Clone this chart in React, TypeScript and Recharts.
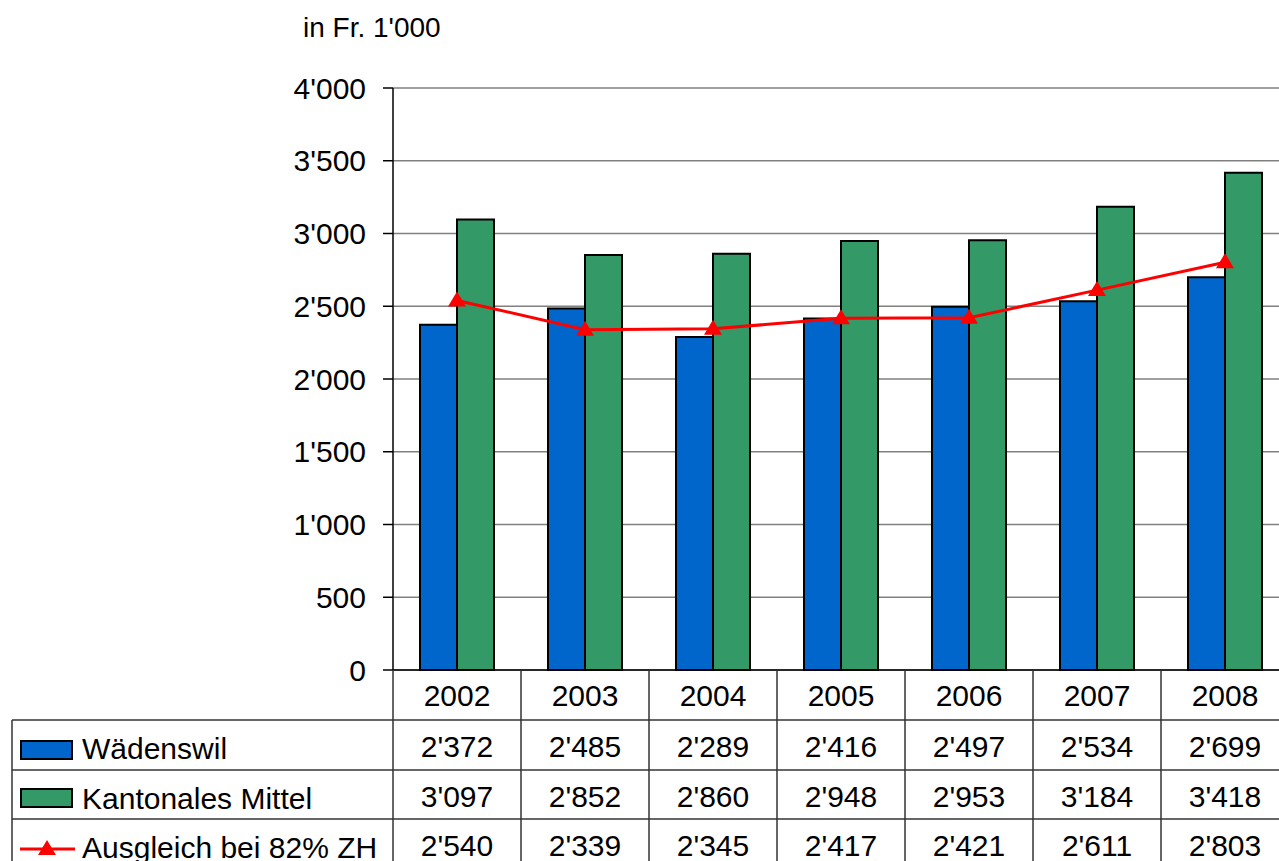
import { ComposedChart, Bar, Line, XAxis, YAxis, CartesianGrid } from "recharts";

const years = ["2002", "2003", "2004", "2005", "2006", "2007", "2008"];
const waedenswil = [2372, 2485, 2289, 2416, 2497, 2534, 2699];
const kantonal = [3097, 2852, 2860, 2948, 2953, 3184, 3418];
const ausgleich = [2540, 2339, 2345, 2417, 2421, 2611, 2803];
const yTicks = [0, 500, 1000, 1500, 2000, 2500, 3000, 3500, 4000];
const seriesNames = ["Wädenswil", "Kantonales Mittel", "Ausgleich bei 82% ZH"];

const data = years.map((y, i) => ({
  year: y,
  w: waedenswil[i],
  k: kantonal[i],
  a: ausgleich[i],
}));

const FONT = "'Liberation Sans', Arial, sans-serif";
const BLUE = "#0066cc";
const GREEN = "#339966";
const RED = "#ff0000";
const LINE = "#333";
const PLOT_LEFT = 393;
const PLOT_RIGHT = 1289;
const BAND = (PLOT_RIGHT - PLOT_LEFT) / years.length;
const ROW_Y = [720, 770, 819];

const fmt = (v: number) => {
  const s = String(v);
  return s.length > 3 ? s.slice(0, -3) + "'" + s.slice(-3) : s;
};

function Triangle({ cx, cy }: any) {
  if (cx == null || cy == null) return null;
  return <path d={`M${cx},${cy - 9} L${cx + 9},${cy + 6} L${cx - 9},${cy + 6} Z`} fill={RED} />;
}

function TableTick({ x, payload, index }: any) {
  const i = index;
  return (
    <g fontFamily={FONT} fontSize={30} fill="#000">
      {i === 0 && <line x1={x - BAND / 2} x2={x - BAND / 2} y1={670} y2={861} stroke={LINE} strokeWidth={1.5} />}
      <line x1={x + BAND / 2} x2={x + BAND / 2} y1={670} y2={861} stroke={LINE} strokeWidth={1.5} />
      <text x={x} y={706} textAnchor="middle">{payload.value}</text>
      <text x={x} y={757} textAnchor="middle">{fmt(waedenswil[i])}</text>
      <text x={x} y={807} textAnchor="middle">{fmt(kantonal[i])}</text>
      <text x={x} y={856} textAnchor="middle">{fmt(ausgleich[i])}</text>
    </g>
  );
}

export default function App() {
  return (
    <div style={{ position: "absolute", left: 0, top: 0, width: 1279, height: 861, overflow: "hidden", background: "#fff" }}>
      <ComposedChart
        width={1295}
        height={861}
        data={data}
        margin={{ top: 88, right: 6, left: 0, bottom: 0 }}
        barGap={0}
        style={{ position: "absolute", left: 0, top: 0 }}
      >
        <CartesianGrid vertical={false} stroke="#808080" strokeWidth={1.5} />
        <XAxis
          dataKey="year"
          height={191}
          axisLine={{ stroke: "#000", strokeWidth: 1.5 }}
          tickLine={false}
          tickSize={0}
          interval={0}
          tick={<TableTick />}
        />
        <YAxis
          width={393}
          domain={[0, 4000]}
          ticks={yTicks}
          tickFormatter={fmt}
          axisLine={{ stroke: "#000", strokeWidth: 1.5 }}
          tickLine={{ stroke: "#000", strokeWidth: 1.5 }}
          tickSize={10}
          tickMargin={17}
          tick={{ fill: "#000", fontSize: 30, fontFamily: FONT }}
        />
        <Bar dataKey="w" barSize={37} fill={BLUE} stroke="#000" strokeWidth={2} isAnimationActive={false} />
        <Bar dataKey="k" barSize={37} fill={GREEN} stroke="#000" strokeWidth={2} isAnimationActive={false} />
        <Line dataKey="a" stroke={RED} strokeWidth={3} dot={<Triangle />} activeDot={false} isAnimationActive={false} />
      </ComposedChart>
      <svg width={1279} height={861} style={{ position: "absolute", left: 0, top: 0, pointerEvents: "none" }}>
        <text x={303} y={37} fontFamily={FONT} fontSize={28} fill="#000">in Fr. 1'000</text>
        {ROW_Y.map((y) => (
          <line key={y} x1={12} x2={1279} y1={y} y2={y} stroke={LINE} strokeWidth={1.5} />
        ))}
        <line x1={12} x2={12} y1={720} y2={861} stroke={LINE} strokeWidth={1.5} />
        <rect x={21} y={741} width={51} height={18} fill={BLUE} stroke="#000" strokeWidth={2} />
        <rect x={21} y={789} width={51} height={18} fill={GREEN} stroke="#000" strokeWidth={2} />
        <line x1={20} x2={75} y1={849} y2={849} stroke={RED} strokeWidth={3} />
        <Triangle cx={47} cy={849} />
        <g fontFamily={FONT} fontSize={30} fill="#000">
          <text x={82} y={759}>{seriesNames[0]}</text>
          <text x={82} y={809}>{seriesNames[1]}</text>
          <text x={82} y={858}>{seriesNames[2]}</text>
        </g>
      </svg>
    </div>
  );
}
